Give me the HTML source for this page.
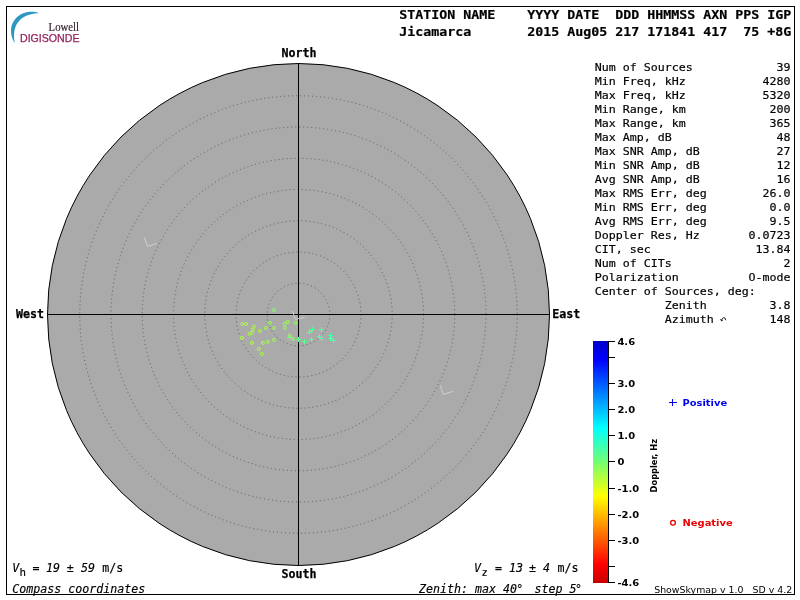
<!DOCTYPE html>
<html><head><meta charset="utf-8"><title>Skymap</title>
<style>
html,body{margin:0;padding:0;background:#fff;}
body{width:800px;height:600px;overflow:hidden;}
svg{display:block;}
.m{font-family:"DejaVu Sans Mono","Liberation Mono",monospace;fill:#000;stroke:#000;stroke-width:0.18px;}
.mb{font-family:"DejaVu Sans Mono","Liberation Mono",monospace;font-weight:bold;fill:#000;}
.mi{font-family:"DejaVu Sans Mono","Liberation Mono",monospace;font-style:oblique;fill:#000;stroke:#000;stroke-width:0.15px;}
.sb{font-family:"DejaVu Sans","Liberation Sans",sans-serif;font-size:10px;font-weight:bold;fill:#000;}
.s{font-family:"DejaVu Sans","Liberation Sans",sans-serif;font-size:10px;fill:#000;}
text{white-space:pre;}
</style></head><body>
<svg width="800" height="600" viewBox="0 0 800 600">

<rect x="0" y="0" width="800" height="600" fill="#fff"/>
<rect x="6.5" y="6.5" width="788" height="588" fill="none" stroke="#000" stroke-width="1" shape-rendering="crispEdges"/>
<g id="logo">
<path d="M38.8,13.2 C35,11.3 28,11.2 22.5,13.6 C16,16.5 11.2,23 11,30 C10.9,35 12.2,39.5 14.8,43 C13.8,39 13.9,34.5 14.4,31 C15.3,25.5 18.5,20.5 22.7,17.8 C27,14.8 33,13.2 38.8,13.2 Z" fill="#2d97c1"/>
<text x="48.6" y="30.5" font-family="'Liberation Serif',serif" font-size="12.2px" fill="#35242f" stroke="#35242f" stroke-width="0.2" textLength="30.4" lengthAdjust="spacingAndGlyphs">Lowell</text>
<text x="20" y="42" font-family="'Liberation Sans',sans-serif" font-size="10.2px" fill="#94225e" stroke="#94225e" stroke-width="0.25" textLength="59.5" lengthAdjust="spacingAndGlyphs">DIGISONDE</text>
</g>
<circle cx="298.5" cy="314.5" r="251" fill="#aaaaaa" stroke="#000" stroke-width="1"/>
<circle cx="298.5" cy="314.5" r="31.250" fill="none" stroke="#5c5c5c" stroke-width="1" stroke-dasharray="1 3"/>
<circle cx="298.5" cy="314.5" r="62.500" fill="none" stroke="#5c5c5c" stroke-width="1" stroke-dasharray="1 3"/>
<circle cx="298.5" cy="314.5" r="93.750" fill="none" stroke="#5c5c5c" stroke-width="1" stroke-dasharray="1 3"/>
<circle cx="298.5" cy="314.5" r="125.000" fill="none" stroke="#5c5c5c" stroke-width="1" stroke-dasharray="1 3"/>
<circle cx="298.5" cy="314.5" r="156.250" fill="none" stroke="#5c5c5c" stroke-width="1" stroke-dasharray="1 3"/>
<circle cx="298.5" cy="314.5" r="187.500" fill="none" stroke="#5c5c5c" stroke-width="1" stroke-dasharray="1 3"/>
<circle cx="298.5" cy="314.5" r="218.750" fill="none" stroke="#5c5c5c" stroke-width="1" stroke-dasharray="1 3"/>
<path d="M298.5,63 V566 M47,314.5 H550" stroke="#000" stroke-width="1" fill="none" shape-rendering="crispEdges"/>
<polyline points="292.4,311 295.4,319.25 304.75,317.4" fill="none" stroke="#d0d0d0" stroke-width="1"/>
<polyline points="144.2,237.2 147.6,246.5 156.9,243.25" fill="none" stroke="#d0d0d0" stroke-width="1"/>
<polyline points="440.3,385.3 443.4,394.4 452.8,391.4" fill="none" stroke="#d0d0d0" stroke-width="1"/>
<g fill="none" stroke-width="1">
<circle cx="274" cy="310" r="1.5" stroke="#83ff66"/>
<circle cx="242.5" cy="324" r="1.5" stroke="#b3ff3f"/>
<circle cx="246.1" cy="324" r="1.5" stroke="#b1ff40"/>
<circle cx="253.9" cy="326.6" r="1.5" stroke="#acff44"/>
<circle cx="252.85" cy="329.85" r="1.5" stroke="#adff44"/>
<circle cx="252.1" cy="332.6" r="1.5" stroke="#adff43"/>
<circle cx="249.5" cy="333.9" r="1.5" stroke="#afff42"/>
<circle cx="259.9" cy="330.9" r="1.5" stroke="#a9ff47"/>
<circle cx="265.9" cy="327.9" r="1.5" stroke="#a5ff4a"/>
<circle cx="269.9" cy="322.9" r="1.5" stroke="#a3ff4c"/>
<circle cx="274" cy="327.9" r="1.5" stroke="#a0ff4e"/>
<circle cx="241.9" cy="337.9" r="1.5" stroke="#b3ff3e"/>
<circle cx="251.9" cy="342.9" r="1.5" stroke="#adff43"/>
<circle cx="262.9" cy="342.9" r="1.5" stroke="#a7ff48"/>
<circle cx="267.85" cy="341.85" r="1.5" stroke="#a4ff4b"/>
<circle cx="274" cy="339.9" r="1.5" stroke="#a0ff4e"/>
<circle cx="287.9" cy="321.9" r="1.5" stroke="#98ff55"/>
<circle cx="284.7" cy="323.8" r="1.5" stroke="#9aff53"/>
<circle cx="284.9" cy="327.9" r="1.5" stroke="#9aff53"/>
<circle cx="295.75" cy="322.85" r="1.5" stroke="#93ff58"/>
<circle cx="289.75" cy="335.6" r="1.5" stroke="#97ff55"/>
<circle cx="292.9" cy="338.9" r="1.5" stroke="#95ff57"/>
<circle cx="258.85" cy="349" r="1.5" stroke="#a9ff47"/>
<circle cx="261.85" cy="353.9" r="1.5" stroke="#a7ff48"/>
<circle cx="310.4" cy="330.9" r="1.5" stroke="#8eff5d"/>
<path d="M287,337.5 h5 M289.5,335 v5" stroke="#61ff89" shape-rendering="crispEdges"/>
<path d="M296,339.5 h5 M298.5,337 v5" stroke="#5cff8f" shape-rendering="crispEdges"/>
<path d="M302,341.5 h5 M304.5,339 v5" stroke="#58ff93" shape-rendering="crispEdges"/>
<path d="M309,339.5 h5 M311.5,337 v5" stroke="#54ff98" shape-rendering="crispEdges"/>
<path d="M307,332.5 h5 M309.5,330 v5" stroke="#56ff97" shape-rendering="crispEdges"/>
<path d="M310,329.5 h5 M312.5,327 v5" stroke="#54ff99" shape-rendering="crispEdges"/>
<path d="M319,329.5 h5 M321.5,327 v5" stroke="#4effa0" shape-rendering="crispEdges"/>
<path d="M317,336.5 h5 M319.5,334 v5" stroke="#50ff9e" shape-rendering="crispEdges"/>
<path d="M319,338.5 h5 M321.5,336 v5" stroke="#4effa0" shape-rendering="crispEdges"/>
<path d="M328,335.5 h5 M330.5,333 v5" stroke="#49ffa6" shape-rendering="crispEdges"/>
<path d="M328,338.5 h5 M330.5,336 v5" stroke="#49ffa6" shape-rendering="crispEdges"/>
<path d="M329,338.5 h5 M331.5,336 v5" stroke="#49ffa7" shape-rendering="crispEdges"/>
<path d="M331,340.5 h5 M333.5,338 v5" stroke="#47ffa8" shape-rendering="crispEdges"/>
</g>
<text class="mb" x="281.4" y="57" font-size="12" textLength="35" lengthAdjust="spacingAndGlyphs" stroke="#000" stroke-width="0.25">North</text>
<text class="mb" x="281.4" y="578" font-size="12" textLength="35" lengthAdjust="spacingAndGlyphs" stroke="#000" stroke-width="0.25">South</text>
<text class="mb" x="16.1" y="318" font-size="12" textLength="28" lengthAdjust="spacingAndGlyphs" stroke="#000" stroke-width="0.25">West</text>
<text class="mb" x="552.3" y="318" font-size="12" textLength="28" lengthAdjust="spacingAndGlyphs" stroke="#000" stroke-width="0.25">East</text>
<text class="mb" x="399.2" y="19" font-size="13" textLength="392" lengthAdjust="spacingAndGlyphs" stroke="#000" stroke-width="0.2">STATION NAME    YYYY DATE  DDD HHMMSS AXN PPS IGP</text>
<text class="mb" x="399.2" y="36" font-size="13" textLength="392" lengthAdjust="spacingAndGlyphs" stroke="#000" stroke-width="0.2">Jicamarca       2015 Aug05 217 171841 417  75 +8G</text>
<text class="m" x="594.7" y="71" font-size="11" textLength="98" lengthAdjust="spacingAndGlyphs">Num of Sources</text>
<text class="m" x="776.6" y="71" font-size="11" textLength="14" lengthAdjust="spacingAndGlyphs">39</text>
<text class="m" x="594.7" y="85" font-size="11" textLength="91" lengthAdjust="spacingAndGlyphs">Min Freq, kHz</text>
<text class="m" x="762.6" y="85" font-size="11" textLength="28" lengthAdjust="spacingAndGlyphs">4280</text>
<text class="m" x="594.7" y="99" font-size="11" textLength="91" lengthAdjust="spacingAndGlyphs">Max Freq, kHz</text>
<text class="m" x="762.6" y="99" font-size="11" textLength="28" lengthAdjust="spacingAndGlyphs">5320</text>
<text class="m" x="594.7" y="113" font-size="11" textLength="91" lengthAdjust="spacingAndGlyphs">Min Range, km</text>
<text class="m" x="769.6" y="113" font-size="11" textLength="21" lengthAdjust="spacingAndGlyphs">200</text>
<text class="m" x="594.7" y="127" font-size="11" textLength="91" lengthAdjust="spacingAndGlyphs">Max Range, km</text>
<text class="m" x="769.6" y="127" font-size="11" textLength="21" lengthAdjust="spacingAndGlyphs">365</text>
<text class="m" x="594.7" y="141" font-size="11" textLength="77" lengthAdjust="spacingAndGlyphs">Max Amp, dB</text>
<text class="m" x="776.6" y="141" font-size="11" textLength="14" lengthAdjust="spacingAndGlyphs">48</text>
<text class="m" x="594.7" y="155" font-size="11" textLength="105" lengthAdjust="spacingAndGlyphs">Max SNR Amp, dB</text>
<text class="m" x="776.6" y="155" font-size="11" textLength="14" lengthAdjust="spacingAndGlyphs">27</text>
<text class="m" x="594.7" y="169" font-size="11" textLength="105" lengthAdjust="spacingAndGlyphs">Min SNR Amp, dB</text>
<text class="m" x="776.6" y="169" font-size="11" textLength="14" lengthAdjust="spacingAndGlyphs">12</text>
<text class="m" x="594.7" y="183" font-size="11" textLength="105" lengthAdjust="spacingAndGlyphs">Avg SNR Amp, dB</text>
<text class="m" x="776.6" y="183" font-size="11" textLength="14" lengthAdjust="spacingAndGlyphs">16</text>
<text class="m" x="594.7" y="197" font-size="11" textLength="112" lengthAdjust="spacingAndGlyphs">Max RMS Err, deg</text>
<text class="m" x="762.6" y="197" font-size="11" textLength="28" lengthAdjust="spacingAndGlyphs">26.0</text>
<text class="m" x="594.7" y="211" font-size="11" textLength="112" lengthAdjust="spacingAndGlyphs">Min RMS Err, deg</text>
<text class="m" x="769.6" y="211" font-size="11" textLength="21" lengthAdjust="spacingAndGlyphs">0.0</text>
<text class="m" x="594.7" y="225" font-size="11" textLength="112" lengthAdjust="spacingAndGlyphs">Avg RMS Err, deg</text>
<text class="m" x="769.6" y="225" font-size="11" textLength="21" lengthAdjust="spacingAndGlyphs">9.5</text>
<text class="m" x="594.7" y="239" font-size="11" textLength="105" lengthAdjust="spacingAndGlyphs">Doppler Res, Hz</text>
<text class="m" x="748.6" y="239" font-size="11" textLength="42" lengthAdjust="spacingAndGlyphs">0.0723</text>
<text class="m" x="594.7" y="253" font-size="11" textLength="56" lengthAdjust="spacingAndGlyphs">CIT, sec</text>
<text class="m" x="755.6" y="253" font-size="11" textLength="35" lengthAdjust="spacingAndGlyphs">13.84</text>
<text class="m" x="594.7" y="267" font-size="11" textLength="77" lengthAdjust="spacingAndGlyphs">Num of CITs</text>
<text class="m" x="783.6" y="267" font-size="11" textLength="7" lengthAdjust="spacingAndGlyphs">2</text>
<text class="m" x="594.7" y="281" font-size="11" textLength="84" lengthAdjust="spacingAndGlyphs">Polarization</text>
<text class="m" x="748.6" y="281" font-size="11" textLength="42" lengthAdjust="spacingAndGlyphs">O-mode</text>
<text class="m" x="594.7" y="295" font-size="11" textLength="161" lengthAdjust="spacingAndGlyphs">Center of Sources, deg:</text>
<text class="m" x="594.7" y="309" font-size="11" textLength="112" lengthAdjust="spacingAndGlyphs">          Zenith</text>
<text class="m" x="769.6" y="309" font-size="11" textLength="21" lengthAdjust="spacingAndGlyphs">3.8</text>
<text class="m" x="594.7" y="323" font-size="11" textLength="119" lengthAdjust="spacingAndGlyphs">          Azimuth</text>
<text class="m" x="769.6" y="323" font-size="11" textLength="21" lengthAdjust="spacingAndGlyphs">148</text>
<path d="M725.7,320.2 Q725.4,317.2 723.3,317.7 Q722.2,318.1 721.7,319.8" fill="none" stroke="#222" stroke-width="1"/>
<path d="M720,318.9 L723.4,320 L721.4,321.4 Z" fill="#222"/>
<defs><linearGradient id="cb" x1="0" y1="0" x2="0" y2="1">
<stop offset="0.0000" stop-color="#0000c8"/>
<stop offset="0.0761" stop-color="#0000ff"/>
<stop offset="0.3587" stop-color="#00ffff"/>
<stop offset="0.5000" stop-color="#73ff73"/>
<stop offset="0.6413" stop-color="#ffff00"/>
<stop offset="0.9239" stop-color="#ff0000"/>
<stop offset="1.0000" stop-color="#c80000"/>
</linearGradient></defs>
<rect x="593" y="341" width="15" height="242" fill="url(#cb)"/>
<g stroke="#000" stroke-width="1" shape-rendering="crispEdges">
<line x1="608.5" y1="341" x2="608.5" y2="583"/>
<line x1="608" y1="341.5" x2="615" y2="341.5"/>
<line x1="608" y1="357.5" x2="615" y2="357.5"/>
<line x1="608" y1="383.5" x2="615" y2="383.5"/>
<line x1="608" y1="409.5" x2="615" y2="409.5"/>
<line x1="608" y1="435.5" x2="615" y2="435.5"/>
<line x1="608" y1="461.5" x2="615" y2="461.5"/>
<line x1="608" y1="488.5" x2="615" y2="488.5"/>
<line x1="608" y1="514.5" x2="615" y2="514.5"/>
<line x1="608" y1="540.5" x2="615" y2="540.5"/>
<line x1="608" y1="566.5" x2="615" y2="566.5"/>
<line x1="608" y1="582.5" x2="615" y2="582.5"/>
</g>
<text class="sb" transform="translate(617.4,345) scale(1,0.95)">4.6</text>
<text class="sb" transform="translate(617.4,387) scale(1,0.95)">3.0</text>
<text class="sb" transform="translate(617.4,413) scale(1,0.95)">2.0</text>
<text class="sb" transform="translate(617.4,439) scale(1,0.95)">1.0</text>
<text class="sb" transform="translate(617.4,465) scale(1,0.95)">0</text>
<text class="sb" transform="translate(617.4,492) scale(1,0.95)">-1.0</text>
<text class="sb" transform="translate(617.4,518) scale(1,0.95)">-2.0</text>
<text class="sb" transform="translate(617.4,544) scale(1,0.95)">-3.0</text>
<text class="sb" transform="translate(617.4,586) scale(1,0.95)">-4.6</text>
<text class="sb" transform="translate(657.3,492.4) rotate(-90)" style="font-size:9.3px" textLength="53.5" lengthAdjust="spacingAndGlyphs">Doppler, Hz</text>
<path d="M669,402.5 h8 M672.5,399 v7" stroke="#0000ee" stroke-width="1" fill="none" shape-rendering="crispEdges"/>
<text class="sb" transform="translate(682.5,406) scale(1,0.95)" style="fill:#0000ee" textLength="44.6" lengthAdjust="spacingAndGlyphs">Positive</text>
<circle cx="673" cy="522.8" r="2.4" fill="none" stroke="#e80000" stroke-width="1.3"/>
<text class="sb" transform="translate(682.5,526) scale(1,0.95)" style="fill:#ec0000" textLength="50.2" lengthAdjust="spacingAndGlyphs">Negative</text>
<text class="mi" x="12.3" y="572" font-size="12" textLength="7" lengthAdjust="spacingAndGlyphs">V</text>
<text class="m" x="19.4" y="576" font-size="10.8">h</text>
<text class="m" x="32.6" y="572" font-size="12" textLength="7" lengthAdjust="spacingAndGlyphs">=</text>
<text class="mi" x="46" y="572" font-size="12" textLength="14" lengthAdjust="spacingAndGlyphs">19</text>
<text class="m" x="66.8" y="572" font-size="12" textLength="7" lengthAdjust="spacingAndGlyphs">±</text>
<text class="mi" x="81" y="572" font-size="12" textLength="14" lengthAdjust="spacingAndGlyphs">59</text>
<text class="m" x="102.3" y="572" font-size="12" textLength="21" lengthAdjust="spacingAndGlyphs">m/s</text>
<text class="mi" x="12.3" y="593" font-size="12" textLength="133" lengthAdjust="spacingAndGlyphs">Compass coordinates</text>
<text class="mi" x="474" y="572" font-size="12" textLength="7" lengthAdjust="spacingAndGlyphs">V</text>
<text class="m" x="481.6" y="576" font-size="10.3">z</text>
<text class="m" x="495" y="572" font-size="12" textLength="7" lengthAdjust="spacingAndGlyphs">=</text>
<text class="mi" x="509" y="572" font-size="12" textLength="14" lengthAdjust="spacingAndGlyphs">13</text>
<text class="m" x="529" y="572" font-size="12" textLength="7" lengthAdjust="spacingAndGlyphs">±</text>
<text class="mi" x="543" y="572" font-size="12" textLength="7" lengthAdjust="spacingAndGlyphs">4</text>
<text class="m" x="557.5" y="572" font-size="12" textLength="21" lengthAdjust="spacingAndGlyphs">m/s</text>
<text class="mi" x="419" y="593" font-size="12" textLength="98" lengthAdjust="spacingAndGlyphs">Zenith: max 40</text>
<text class="mi" x="516.2" y="593" font-size="12" textLength="7" lengthAdjust="spacingAndGlyphs">°</text>
<text class="mi" x="534.4" y="593" font-size="12" textLength="42" lengthAdjust="spacingAndGlyphs">step 5</text>
<text class="mi" x="575.1" y="593" font-size="12" textLength="7" lengthAdjust="spacingAndGlyphs">°</text>
<text class="s" x="654.2" y="593" style="font-size:9.3px" textLength="138" lengthAdjust="spacingAndGlyphs">ShowSkymap v 1.0   SD v 4.2</text>
</svg></body></html>
